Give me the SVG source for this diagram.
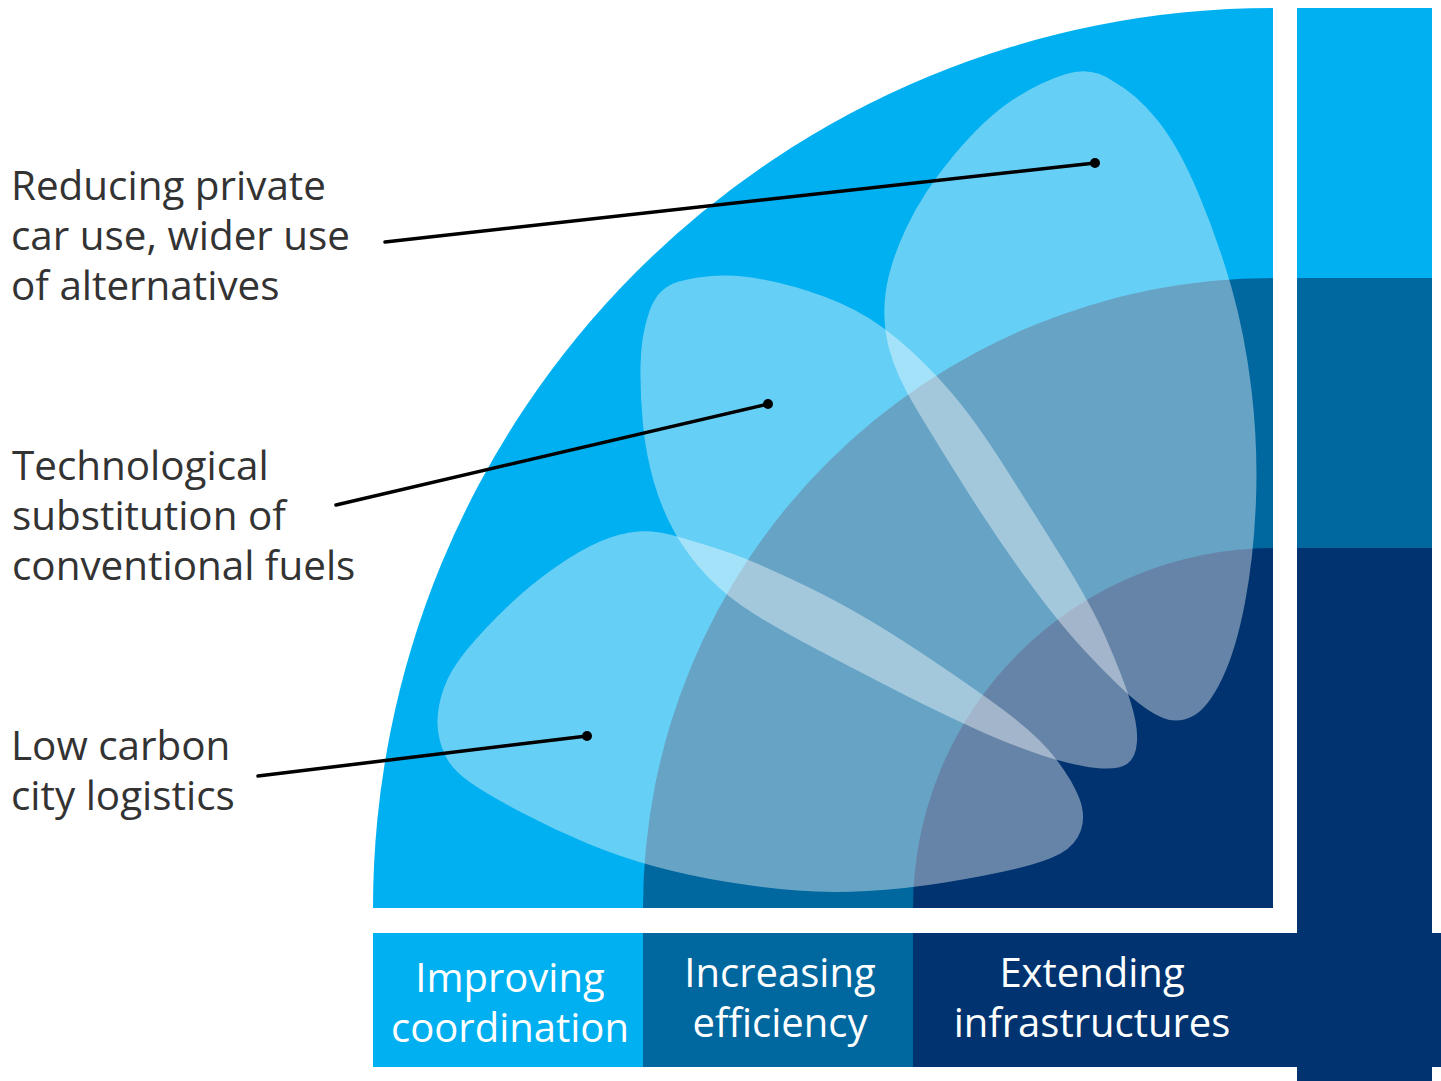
<svg xmlns="http://www.w3.org/2000/svg" width="1441" height="1081" viewBox="0 0 1441 1081">
<style>
.l{fill:#00B0F0}.m{fill:#00679F}.d{fill:#00336F}
.petal{fill:#fff;fill-opacity:0.4}
.lbl{font-family:"Open Sans","Liberation Sans",sans-serif;font-size:40.4px;fill:#333}
.bl{font-family:"Open Sans","Liberation Sans",sans-serif;font-size:40px;fill:#fff;text-anchor:middle}
.conn{stroke:#000;stroke-width:3.5;fill:none;stroke-linecap:round}
</style>
<rect width="1441" height="1081" fill="#fff"/>
<g id="quadrant">
<path class="l" d="M373,908 A900,900 0 0 1 1273,8 L1273,908 Z"/>
<path class="m" d="M643,908 A630,630 0 0 1 1273,278 L1273,908 Z"/>
<path class="d" d="M913,908 A360,360 0 0 1 1273,548 L1273,908 Z"/>
</g>
<g id="side-bar">
<rect class="l" x="1297" y="8" width="135" height="270"/>
<rect class="m" x="1297" y="278" width="135" height="270"/>
<rect class="d" x="1297" y="548" width="135" height="533"/>
</g>
<g id="bottom-bar">
<rect class="l" x="373" y="933" width="270" height="134"/>
<rect class="m" x="643" y="933" width="270" height="134"/>
<rect class="d" x="913" y="933" width="528" height="134"/>
</g>
<g id="petal-reducing">
<path class="petal" d="M1113.5,81.5 Q1135,93 1156.5,119 Q1178,145 1198,192.5 Q1218,240 1231.5,287.5 Q1245,335 1251.5,390 Q1258,445 1256,500 Q1254,555 1245,602.5 Q1236,650 1222,679 Q1208,708 1193,716 Q1178,724 1163,718 Q1148,712 1129,695 Q1110,678 1084,650 Q1058,622 1027,579.5 Q996,537 965.5,488.5 Q935,440 915.5,407.5 Q896,375 889,348.5 Q882,322 885.5,293.5 Q889,265 906,228.5 Q923,192 954,155 Q985,118 1012.5,100 Q1040,82 1066,74 Q1092,66 1113.5,81.5 Z"/>
</g>
<g id="petal-technological">
<path class="petal" d="M679,281.5 Q700,276 722.5,275.5 Q745,275 777.5,282.5 Q810,290 840,303 Q870,316 897.5,339 Q925,362 950,391 Q975,420 1004.5,466.5 Q1034,513 1063,559.5 Q1092,606 1107,640.5 Q1122,675 1130,700 Q1138,725 1137,741.5 Q1136,758 1127,764 Q1118,770 1096.5,768 Q1075,766 1042.5,755.5 Q1010,745 970,726.5 Q930,708 895,690 Q860,672 820,651 Q780,630 753.5,613.5 Q727,597 707.5,576.5 Q688,556 675,533 Q662,510 654,482.5 Q646,455 643,425 Q640,395 640.5,365 Q641,335 649.5,311 Q658,287 679,281.5 Z"/>
</g>
<g id="petal-logistics">
<path class="petal" d="M677.5,536.5 Q700,543 726,551.5 Q752,560 806,586 Q860,612 920,652 Q980,692 1010,715 Q1040,738 1056,759 Q1072,780 1079,797.5 Q1086,815 1081,830 Q1076,845 1060.5,853.5 Q1045,862 1015,869 Q985,876 945,882.5 Q905,889 867.5,891 Q830,893 797.5,890.5 Q765,888 727.5,882 Q690,876 655,866.5 Q620,857 587.5,843.5 Q555,830 522.5,813 Q490,796 471,783 Q452,770 445,755 Q438,740 437.5,724 Q437,708 443.5,689 Q450,670 467.5,649 Q485,628 507.5,606.5 Q530,585 555,567.5 Q580,550 600,541.5 Q620,533 637.5,531.5 Q655,530 677.5,536.5 Z"/>
</g>
<g id="connectors">
<line class="conn" x1="385" y1="242" x2="1095" y2="163"/>
<circle cx="1095" cy="163" r="5"/>
<line class="conn" x1="336" y1="505" x2="768" y2="404"/>
<circle cx="768" cy="404" r="5"/>
<line class="conn" x1="258" y1="776" x2="587" y2="736"/>
<circle cx="587" cy="736" r="5"/>
</g>
<g id="label-reducing">
<text class="lbl" x="11" y="200">Reducing private</text>
<text class="lbl" x="11" y="250">car use, wider use</text>
<text class="lbl" x="11" y="300">of alternatives</text>
</g>
<g id="label-technological">
<text class="lbl" x="12" y="480">Technological</text>
<text class="lbl" x="12" y="530">substitution of</text>
<text class="lbl" x="12" y="580">conventional fuels</text>
</g>
<g id="label-logistics">
<text class="lbl" x="11" y="760">Low carbon</text>
<text class="lbl" x="11" y="810">city logistics</text>
</g>
<g id="label-coordination">
<text class="bl" x="510" y="992">Improving</text>
<text class="bl" x="510" y="1042">coordination</text>
</g>
<g id="label-efficiency">
<text class="bl" x="780" y="987">Increasing</text>
<text class="bl" x="780" y="1037">efficiency</text>
</g>
<g id="label-infrastructures">
<text class="bl" x="1092" y="987">Extending</text>
<text class="bl" x="1092" y="1037">infrastructures</text>
</g>
</svg>
